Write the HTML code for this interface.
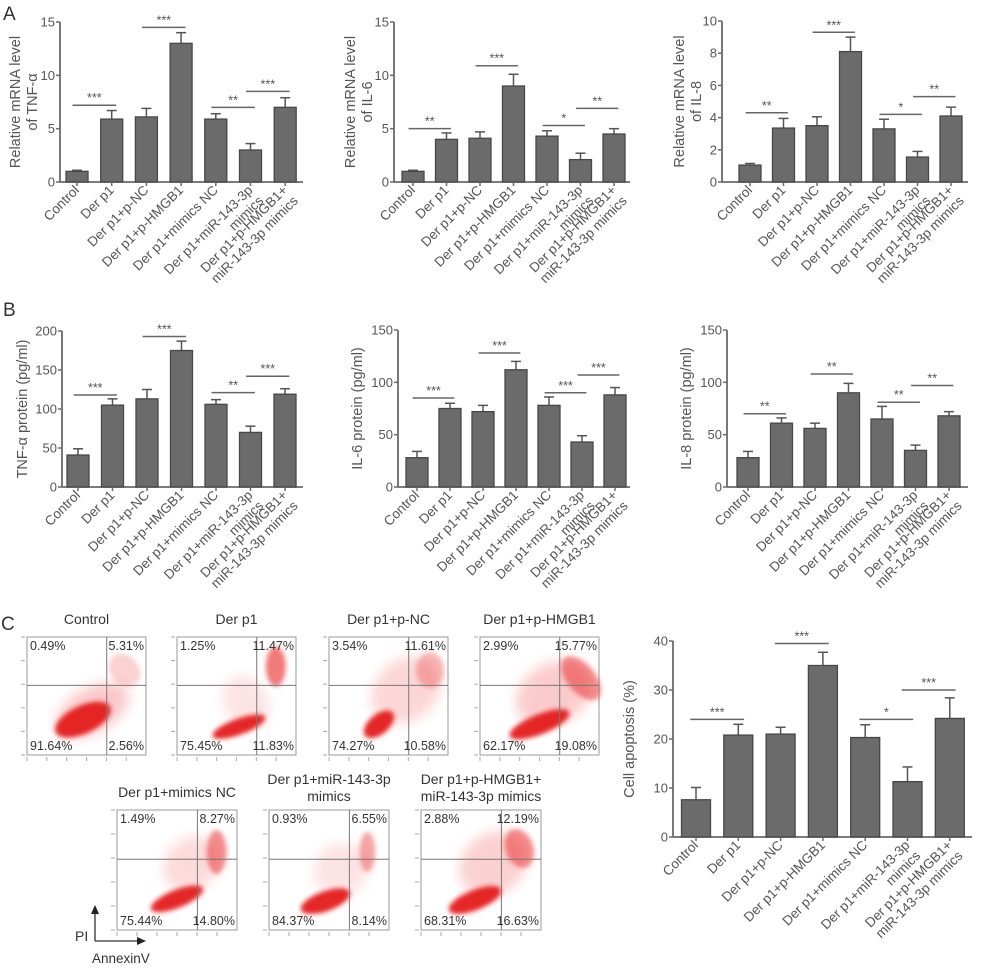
<!DOCTYPE html>
<html><head><meta charset="utf-8">
<style>
html,body{margin:0;padding:0;background:#fff;}
svg{display:block;font-family:"Liberation Sans",Arial,sans-serif;}
</style></head>
<body>
<svg id="fig" width="994" height="968" viewBox="0 0 994 968" xmlns="http://www.w3.org/2000/svg">
<defs>
<filter id="blur1" x="-50%" y="-50%" width="200%" height="200%"><feGaussianBlur stdDeviation="2.5"/></filter>
<filter id="blur2" x="-50%" y="-50%" width="200%" height="200%"><feGaussianBlur stdDeviation="6"/></filter>
</defs>
<text x="3" y="20" font-size="19" fill="#333">A</text>
<text x="3" y="316" font-size="19" fill="#333">B</text>
<text x="1" y="630" font-size="19" fill="#333">C</text>
</svg>
<script>
const categories = ["Control","Der p1","Der p1+p-NC","Der p1+p-HMGB1","Der p1+mimics NC","Der p1+miR-143-3p|mimics","Der p1+p-HMGB1+|miR-143-3p mimics"];

const tnfMrnaValues = [1.0, 5.9, 6.1, 13.0, 5.9, 3.0, 7.0];
const tnfMrnaErrors = [0.1, 0.8, 0.8, 1.0, 0.5, 0.6, 0.9];
const il6MrnaValues = [1.0, 4.0, 4.1, 9.0, 4.3, 2.1, 4.5];
const il6MrnaErrors = [0.1, 0.6, 0.6, 1.1, 0.5, 0.6, 0.5];
const il8MrnaValues = [1.05, 3.35, 3.5, 8.1, 3.3, 1.55, 4.1];
const il8MrnaErrors = [0.1, 0.6, 0.55, 0.9, 0.6, 0.35, 0.55];
const tnfProteinValues = [41, 105, 113, 175, 106, 70, 119];
const tnfProteinErrors = [8, 8, 12, 12, 6, 8, 7];
const il6ProteinValues = [28, 75, 72, 112, 78, 43, 88];
const il6ProteinErrors = [6, 5, 6, 8, 8, 6, 7];
const il8ProteinValues = [28, 61, 56, 90, 65, 35, 68];
const il8ProteinErrors = [6, 5, 5, 9, 12, 5, 4];
const apoptosisValues = [7.6, 20.8, 21.0, 35.0, 20.3, 11.3, 24.2];
const apoptosisErrors = [2.5, 2.2, 1.4, 2.7, 2.6, 3.0, 4.2];

const ticks15 = [0, 5, 10, 15];
const ticks10 = [0, 2, 4, 6, 8, 10];
const ticks200 = [0, 50, 100, 150, 200];
const ticks150 = [0, 50, 100, 150];
const ticks40 = [0, 10, 20, 30, 40];

// significance: [fromIndex, toIndex, yValue, label]
const sigTnfMrna = [[0,1,7.2,"***"],[2,3,14.5,"***"],[4,5,7.0,"**"],[5,6,8.5,"***"]];
const sigIl6Mrna = [[0,1,5.0,"**"],[2,3,10.9,"***"],[4,5,5.3,"*"],[5,6,6.9,"**"]];
const sigIl8Mrna = [[0,1,4.3,"**"],[2,3,9.3,"***"],[4,5,4.2,"*"],[5,6,5.3,"**"]];
const sigTnfProt = [[0,1,118,"***"],[2,3,193,"***"],[4,5,121,"**"],[5,6,142,"***"]];
const sigIl6Prot = [[0,1,85,"***"],[2,3,128,"***"],[4,5,90,"***"],[5,6,107,"***"]];
const sigIl8Prot = [[0,1,70,"**"],[2,3,108,"**"],[4,5,81,"**"],[5,6,97,"**"]];
const sigApop = [[0,1,24,"***"],[2,3,39.5,"***"],[4,5,24,"*"],[5,6,30,"***"]];

const flowTitles = ["Control","Der p1","Der p1+p-NC","Der p1+p-HMGB1","Der p1+mimics NC","Der p1+miR-143-3p|mimics","Der p1+p-HMGB1+|miR-143-3p mimics"];
const flowUL = ["0.49%","1.25%","3.54%","2.99%","1.49%","0.93%","2.88%"];
const flowUR = ["5.31%","11.47%","11.61%","15.77%","8.27%","6.55%","12.19%"];
const flowLL = ["91.64%","75.45%","74.27%","62.17%","75.44%","84.37%","68.31%"];
const flowLR = ["2.56%","11.83%","10.58%","19.08%","14.80%","8.14%","16.63%"];

const NS = "http://www.w3.org/2000/svg";
const svg = document.getElementById("fig");
function mk(tag, attrs, parent){
  const e = document.createElementNS(NS, tag);
  for (const k in attrs) e.setAttribute(k, attrs[k]);
  (parent||svg).appendChild(e);
  return e;
}

function barChart(cfg){
  const g = mk("g", {});
  
  
  const ymax = cfg.ticks[cfg.ticks.length-1];
  const yScale = v => cfg.y0 - (v/ymax)*(cfg.y0-cfg.yTop);
  const xScale = i => cfg.c0 + i*cfg.step;
  const axisCol = "#6a6a6a", txt = "#555";
  const ya = mk("line", {x1:cfg.ax, y1:cfg.yTop, x2:cfg.ax, y2:cfg.y0, stroke:axisCol, "stroke-width":1.8}, g);
  
  
  cfg.ticks.forEach(t => {
    const y = yScale(t);
    mk("line", {x1:cfg.ax-4, y1:y, x2:cfg.ax, y2:y, stroke:axisCol, "stroke-width":1.5}, g);
    const tl = mk("text", {x:cfg.ax-5, y:y+4.5, "font-size":13, "text-anchor":"end", fill:txt}, g);
    tl.textContent = t;
    
    
  });
  const xa = mk("line", {x1:cfg.ax, y1:cfg.y0, x2:cfg.xEnd, y2:cfg.y0, stroke:axisCol, "stroke-width":1.8}, g);
  
  
  const yt = mk("text", {transform:`translate(${cfg.titleX},${(cfg.yTop+cfg.y0)/2}) rotate(-90)`, "font-size":14.5, "text-anchor":"middle", fill:txt}, g);
  
  
  cfg.title.forEach((line, k) => {
    const ts = mk("tspan", {x:0, dy: k===0 ? 0 : 17}, yt);
    ts.textContent = line;
  });
  cfg.values.forEach((v, i) => {
    const cx = xScale(i), yv = yScale(v), ye = yScale(v + cfg.errors[i]);
    mk("line", {x1:cx, y1:yv, x2:cx, y2:ye, stroke:"#555", "stroke-width":1.5}, g);
    mk("line", {x1:cx-5, y1:ye, x2:cx+5, y2:ye, stroke:"#555", "stroke-width":1.5}, g);
    const b = mk("rect", {x:cx-cfg.bw/2, y:yv, width:cfg.bw, height:cfg.y0-yv, fill:"#6b6b6b", stroke:"#474747", "stroke-width":1.3}, g);
    
    
    mk("line", {x1:cx, y1:cfg.y0, x2:cx, y2:cfg.y0+4, stroke:axisCol, "stroke-width":1.5}, g);
    const parts = categories[i].split("|");
    const lt = mk("text", {transform:`translate(${cx+3},${cfg.y0+9}) rotate(-45)`, "font-size":13.5, "text-anchor":"end", fill:txt}, g);
    
    
    parts.forEach((p, k) => {
      const ts = mk("tspan", {x: 0, dy: k===0 ? 0 : 15}, lt);
      ts.textContent = p;
    });
  });
  cfg.sig.forEach(s => {
    const x1 = xScale(s[0]) - cfg.bw*0.2, x2 = xScale(s[1]) + cfg.bw*0.2, y = yScale(s[2]);
    const l = mk("line", {x1:x1, y1:y, x2:x2, y2:y, stroke:"#666", "stroke-width":1.5}, g);
    
    
    const st = mk("text", {x:(x1+x2)/2, y:y-3, "font-size":12.5, "text-anchor":"middle", fill:"#555"}, g);
    st.textContent = s[3];
    
    
  });
}

barChart({name:"chart-tnf-mrna", values:tnfMrnaValues, errors:tnfMrnaErrors, ticks:ticks15, sig:sigTnfMrna, ax:60, xEnd:303, yTop:22, y0:182, c0:77, step:34.7, bw:22, title:["Relative mRNA level","of TNF-α"], titleX:20});
barChart({name:"chart-il6-mrna", values:il6MrnaValues, errors:il6MrnaErrors, ticks:ticks15, sig:sigIl6Mrna, ax:394, xEnd:630, yTop:22, y0:182, c0:413, step:33.5, bw:22, title:["Relative mRNA level","of IL-6"], titleX:355});
barChart({name:"chart-il8-mrna", values:il8MrnaValues, errors:il8MrnaErrors, ticks:ticks10, sig:sigIl8Mrna, ax:722, xEnd:968, yTop:21, y0:182, c0:750, step:33.5, bw:22, title:["Relative mRNA level","of IL-8"], titleX:684});
barChart({name:"chart-tnf-protein", values:tnfProteinValues, errors:tnfProteinErrors, ticks:ticks200, sig:sigTnfProt, ax:62, xEnd:303, yTop:331, y0:487, c0:78, step:34.5, bw:22, title:["TNF-α protein (pg/ml)"], titleX:27});
barChart({name:"chart-il6-protein", values:il6ProteinValues, errors:il6ProteinErrors, ticks:ticks150, sig:sigIl6Prot, ax:398, xEnd:630, yTop:330, y0:487, c0:417, step:33, bw:22, title:["IL-6 protein (pg/ml)"], titleX:362});
barChart({name:"chart-il8-protein", values:il8ProteinValues, errors:il8ProteinErrors, ticks:ticks150, sig:sigIl8Prot, ax:727, xEnd:968, yTop:330, y0:487, c0:748, step:33.5, bw:22, title:["IL-8 protein (pg/ml)"], titleX:691});
barChart({name:"chart-cell-apoptosis", values:apoptosisValues, errors:apoptosisErrors, ticks:ticks40, sig:sigApop, ax:673, xEnd:972, yTop:641, y0:837, c0:696, step:42.3, bw:29, title:["Cell apoptosis (%)"], titleX:634});

const flowBoxes = [[27,637],[177,637],[329,637],[480,637],[117,810],[269,810],[421,810]];
const flowShapes = [
  {main:[0.47,0.70,30,14,-25], cloud:[0.55,0.62,40,22,-30,0.3], ur:[0.82,0.28,14,18,-40,0.2]},
  {main:[0.52,0.76,28,8,-20], cloud:[0.58,0.55,22,28,-30,0.15], ur:[0.83,0.25,10,20,0,0.6]},
  {main:[0.42,0.74,18,10,-40], cloud:[0.65,0.45,38,30,-40,0.22], ur:[0.85,0.28,14,18,0,0.3]},
  {main:[0.50,0.74,32,10,-22], cloud:[0.62,0.48,40,30,-30,0.28], ur:[0.85,0.35,14,26,-40,0.5]},
  {main:[0.50,0.74,28,9,-22], cloud:[0.62,0.45,30,25,-40,0.2], ur:[0.83,0.35,10,22,0,0.5]},
  {main:[0.47,0.76,26,10,-20], cloud:[0.60,0.50,28,26,-40,0.15], ur:[0.82,0.35,8,20,0,0.4]},
  {main:[0.45,0.75,28,10,-22], cloud:[0.60,0.45,36,30,-40,0.25], ur:[0.82,0.32,14,20,-20,0.5]}
];
flowBoxes.forEach((b, i) => {
  const w = (i < 4) ? 119 : 120, h = (i < 4) ? 118 : 120;
  const x = b[0], y = b[1];
  const g = mk("g", {});
  
  
  const parts = flowTitles[i].split("|");
  const tt = mk("text", {x:x+w/2, y: parts.length>1 ? y-26 : y-13, "font-size":14, "text-anchor":"middle", fill:"#333"}, g);
  
  
  parts.forEach((p,k) => { const ts = mk("tspan", {x:x+w/2, dy:k===0?0:17}, tt); ts.textContent = p; });
  mk("rect", {x:x, y:y, width:w, height:h, fill:"#fff", stroke:"#999", "stroke-width":1}, g);
  const s = flowShapes[i];
  const cl = s.cloud;
  mk("ellipse", {cx:x+cl[0]*w, cy:y+cl[1]*h, rx:cl[2], ry:cl[3], transform:`rotate(${cl[4]} ${x+cl[0]*w} ${y+cl[1]*h})`, fill:"#f04a4a", opacity:cl[5], filter:"url(#blur2)"}, g);
  const ur = s.ur;
  mk("ellipse", {cx:x+ur[0]*w, cy:y+ur[1]*h, rx:ur[2], ry:ur[3], transform:`rotate(${ur[4]} ${x+ur[0]*w} ${y+ur[1]*h})`, fill:"#e82020", opacity:ur[5], filter:"url(#blur1)"}, g);
  const m = s.main;
  mk("ellipse", {cx:x+m[0]*w, cy:y+m[1]*h, rx:m[2], ry:m[3], transform:`rotate(${m[4]} ${x+m[0]*w} ${y+m[1]*h})`, fill:"#e41a1a", opacity:0.95, filter:"url(#blur1)"}, g);
  const vx = x + 0.67*w, hy = y + 0.41*h;
  mk("line", {x1:vx, y1:y, x2:vx, y2:y+h, stroke:"#777", "stroke-width":1}, g);
  mk("line", {x1:x, y1:hy, x2:x+w, y2:hy, stroke:"#777", "stroke-width":1}, g);
  for (let k=0;k<6;k++){
    const ty = y + k*(h/5);
    mk("line", {x1:x-6, y1:ty, x2:x-2, y2:ty, stroke:"#aaa", "stroke-width":1}, g);
    const tx = x + k*(w/6);
    mk("line", {x1:tx, y1:y+h+2, x2:tx, y2:y+h+6, stroke:"#aaa", "stroke-width":1}, g);
  }
  const q = [[flowUL[i], x+3, y+13, "start"],[flowUR[i], x+w-2, y+13, "end"],[flowLL[i], x+3, y+h-5, "start"],[flowLR[i], x+w-2, y+h-5, "end"]];
  q.forEach(a => {
    const t = mk("text", {x:a[1], y:a[2], "font-size":12.5, "text-anchor":a[3], fill:"#333"}, g);
    t.textContent = a[0];
    
    
  });
});
const ind = mk("g", {});


mk("line", {x1:95, y1:941, x2:95, y2:913, stroke:"#333", "stroke-width":1.3}, ind);
mk("polygon", {points:"91,914 99,914 95,905", fill:"#222"}, ind);
mk("line", {x1:95, y1:941, x2:138, y2:941, stroke:"#333", "stroke-width":1.3}, ind);
mk("polygon", {points:"137,937 137,945 146,941", fill:"#222"}, ind);
const pi = mk("text", {x:75, y:941, "font-size":14, fill:"#333"}, ind);
pi.textContent = "PI";


const an = mk("text", {x:92, y:963, "font-size":13.5, fill:"#333"}, ind);
an.textContent = "AnnexinV";


</script>
</body></html>
